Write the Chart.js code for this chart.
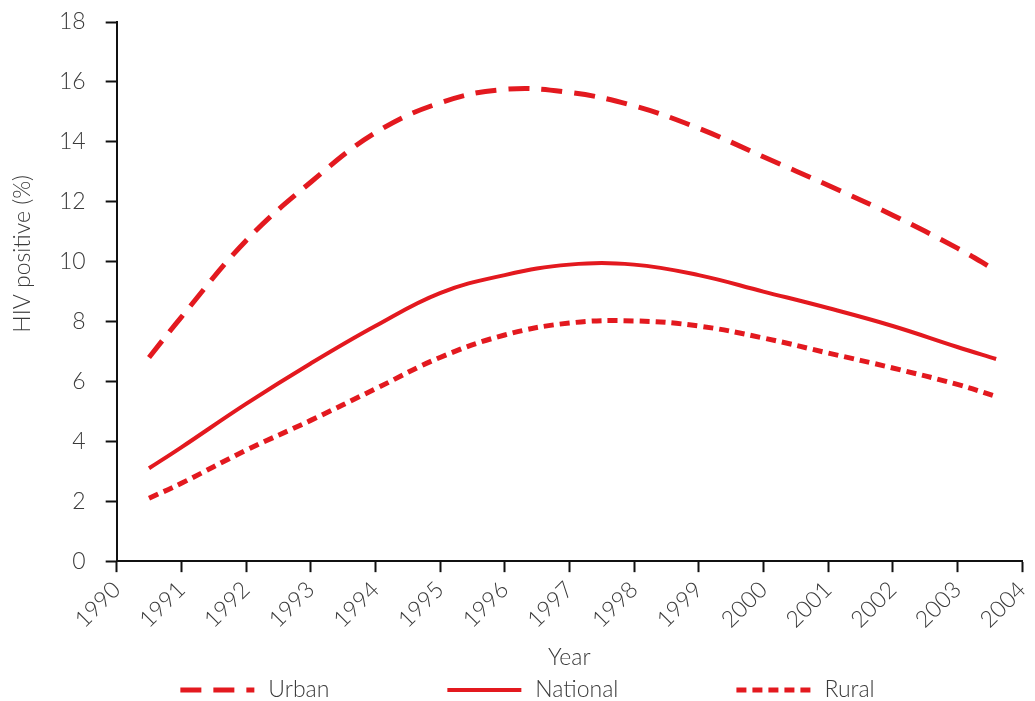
<!DOCTYPE html>
<html>
<head>
<meta charset="utf-8">
<script src="https://cdn.jsdelivr.net/npm/chart.js@4.4.1/dist/chart.umd.min.js"></script>
<style>
  html, body { margin: 0; padding: 0; background: #fff; }
  #wrap { width: 1035px; height: 701px; }
</style>
</head>
<body>
<div id="wrap"><canvas id="myChart"></canvas></div>
<script>
// Values
const years = [1990.5, 1991, 1992, 1993, 1994, 1995, 1996, 1997, 1998, 1999, 2000, 2001, 2002, 2003, 2003.6];
const urban = [6.8, 8.15, 10.7, 12.65, 14.3, 15.3, 15.75, 15.65, 15.2, 14.45, 13.5, 12.55, 11.55, 10.45, 9.7];
const national = [3.1, 3.8, 5.25, 6.6, 7.85, 8.95, 9.55, 9.9, 9.9, 9.55, 9.0, 8.45, 7.85, 7.15, 6.75];
const rural = [2.1, 2.6, 3.7, 4.7, 5.75, 6.8, 7.55, 7.95, 8.02, 7.85, 7.45, 6.95, 6.45, 5.9, 5.5];
const seriesNames = ["Urban", "National", "Rural"];

const RED = "#e3191f";
const TEXT = "#3a3a3a";
const FONT = "Lato";
const FONT_SIZE = 23;

function toPoints(values) {
  return values.map((v, i) => ({ x: years[i], y: v }));
}

// Y axis title sits a bit above the middle of the axis in the original
const yTitlePlugin = {
  id: "yTitle",
  afterDraw(chart) {
    const ctx = chart.ctx;
    const area = chart.chartArea;
    ctx.save();
    ctx.translate(23, area.top + area.height * 0.43);
    ctx.rotate(-Math.PI / 2);
    ctx.font = "300 " + FONT_SIZE + "px " + FONT;
    ctx.fillStyle = TEXT;
    ctx.textAlign = "center";
    ctx.textBaseline = "middle";
    ctx.fillText("HIV positive (%)", 0, 0);
    ctx.restore();
  },
};

// Legend with wide gaps between entries, drawn from the dataset styles
const legendPlugin = {
  id: "lineLegend",
  afterDraw(chart) {
    const ctx = chart.ctx;
    const sample = 74;
    const gap = 14;
    const itemGap = 118;
    const y = chart.height - 11;
    ctx.save();
    ctx.font = "300 " + FONT_SIZE + "px " + FONT;
    let total = 0;
    chart.data.datasets.forEach((ds, i) => {
      total += sample + gap + ctx.measureText(ds.label).width;
      if (i > 0) total += itemGap;
    });
    let x = chart.width / 2 + 10 - total / 2;
    chart.data.datasets.forEach((ds) => {
      ctx.strokeStyle = ds.borderColor;
      ctx.lineWidth = ds.borderWidth;
      ctx.setLineDash(ds.borderDash || []);
      ctx.beginPath();
      ctx.moveTo(x, y);
      ctx.lineTo(x + sample, y);
      ctx.stroke();
      ctx.setLineDash([]);
      ctx.fillStyle = TEXT;
      ctx.textAlign = "left";
      ctx.textBaseline = "middle";
      ctx.fillText(ds.label, x + sample + gap, y);
      x += sample + gap + ctx.measureText(ds.label).width + itemGap;
    });
    ctx.restore();
  },
};

const ctx = document.getElementById("myChart").getContext("2d");

new Chart(ctx, {
  type: "line",
  data: {
    datasets: [
      {
        label: seriesNames[0],
        data: toPoints(urban),
        borderColor: RED,
        borderWidth: 5,
        borderDash: [21, 12],
        tension: 0.4,
        pointRadius: 0,
        fill: false,
      },
      {
        label: seriesNames[1],
        data: toPoints(national),
        borderColor: RED,
        borderWidth: 4,
        tension: 0.4,
        pointRadius: 0,
        fill: false,
      },
      {
        label: seriesNames[2],
        data: toPoints(rural),
        borderColor: RED,
        borderWidth: 5,
        borderDash: [10, 6],
        tension: 0.4,
        pointRadius: 0,
        fill: false,
      },
    ],
  },
  options: {
    responsive: true,
    maintainAspectRatio: false,
    animation: false,
    layout: {
      padding: { left: 39, right: 13, top: 22, bottom: 30 },
    },
    plugins: {
      legend: { display: false },
      tooltip: { enabled: false },
    },
    scales: {
      x: {
        type: "linear",
        min: 1990,
        max: 2004,
        afterFit: (scale) => {
          scale.paddingRight = 0;
        },
        grid: {
          drawOnChartArea: false,
          drawTicks: true,
          tickLength: 11,
          tickColor: "#111",
          tickWidth: 2,
        },
        border: { color: "#111", width: 2 },
        ticks: {
          stepSize: 1,
          autoSkip: false,
          minRotation: 45,
          maxRotation: 45,
          padding: 4,
          color: TEXT,
          font: { family: FONT, size: FONT_SIZE, weight: 300 },
          callback: (value) => String(value),
        },
        title: {
          display: true,
          text: "Year",
          color: TEXT,
          font: { family: FONT, size: FONT_SIZE, weight: 300 },
          padding: { top: 6, bottom: 0 },
        },
      },
      y: {
        min: 0,
        max: 18,
        // the wide label gap should not push the plot down
        afterFit: (scale) => {
          scale.paddingTop = 0;
          scale.paddingBottom = 0;
        },
        grid: {
          drawOnChartArea: false,
          drawTicks: true,
          tickLength: 11,
          tickColor: "#111",
          tickWidth: 2,
        },
        border: { color: "#111", width: 2 },
        ticks: {
          stepSize: 2,
          padding: 20,
          color: TEXT,
          font: { family: FONT, size: FONT_SIZE, weight: 300 },
        },
      },
    },
  },
  plugins: [yTitlePlugin, legendPlugin],
});
</script>
</body>
</html>
